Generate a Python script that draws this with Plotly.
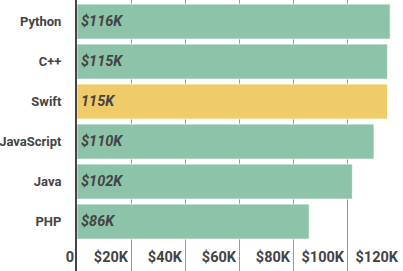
import plotly.graph_objects as go

languages = ["Python", "C++", "Swift", "JavaScript", "Java", "PHP"]
salaries_k = [116, 115, 115, 110, 102, 86]
bar_labels = ["$116K", "$115K", "115K", "$110K", "$102K", "$86K"]
bar_colors = ["#8DC4A9", "#8DC4A9", "#F0CB6A", "#8DC4A9", "#8DC4A9", "#8DC4A9"]
tick_vals = [0, 20, 40, 60, 80, 100, 120]
tick_text = ["0", "$20K", "$40K", "$60K", "$80K", "$100K", "$120K"]

FONT = "Roboto"
TXT = "#444444"

fig = go.Figure()
fig.add_trace(go.Bar(
    x=salaries_k,
    y=languages,
    orientation="h",
    marker=dict(color=bar_colors, line=dict(color="rgba(255,255,255,0.7)", width=1)),
    hoverinfo="skip",
))
for lang, lab in zip(languages, bar_labels):
    fig.add_annotation(
        x=0, y=lang, text=lab, showarrow=False,
        xanchor="left", yanchor="middle", xshift=2,
        font=dict(family=FONT, size=14.5, color=TXT, style="italic", weight="bold"),
    )

fig.update_layout(
    width=403, height=271,
    margin=dict(l=77, r=1.5, t=0, b=0),
    plot_bgcolor="white", paper_bgcolor="white",
    bargap=0.125,
    showlegend=False,
    font=dict(family=FONT, size=13, color=TXT, weight="bold"),
)
fig.update_xaxes(
    range=[0, 120],
    tickvals=tick_vals, ticktext=tick_text,
    ticklabelposition="inside left",
    ticklabeloverflow="allow",
    ticklabelshift=-3,
    showgrid=True, gridcolor="#9a9a9a", gridwidth=1,
    zeroline=False, showline=False, ticks="",
    tickfont=dict(family=FONT, size=14.5, color=TXT, weight="bold"),
)
fig.update_yaxes(
    type="category",
    range=[6.235, -0.54],
    showgrid=False, zeroline=False,
    showline=True, linecolor="#444444", linewidth=2,
    ticks="", ticklabelstandoff=11,
    tickfont=dict(family=FONT, size=13, color=TXT, weight="bold"),
)

fig.write_html("out.html")
